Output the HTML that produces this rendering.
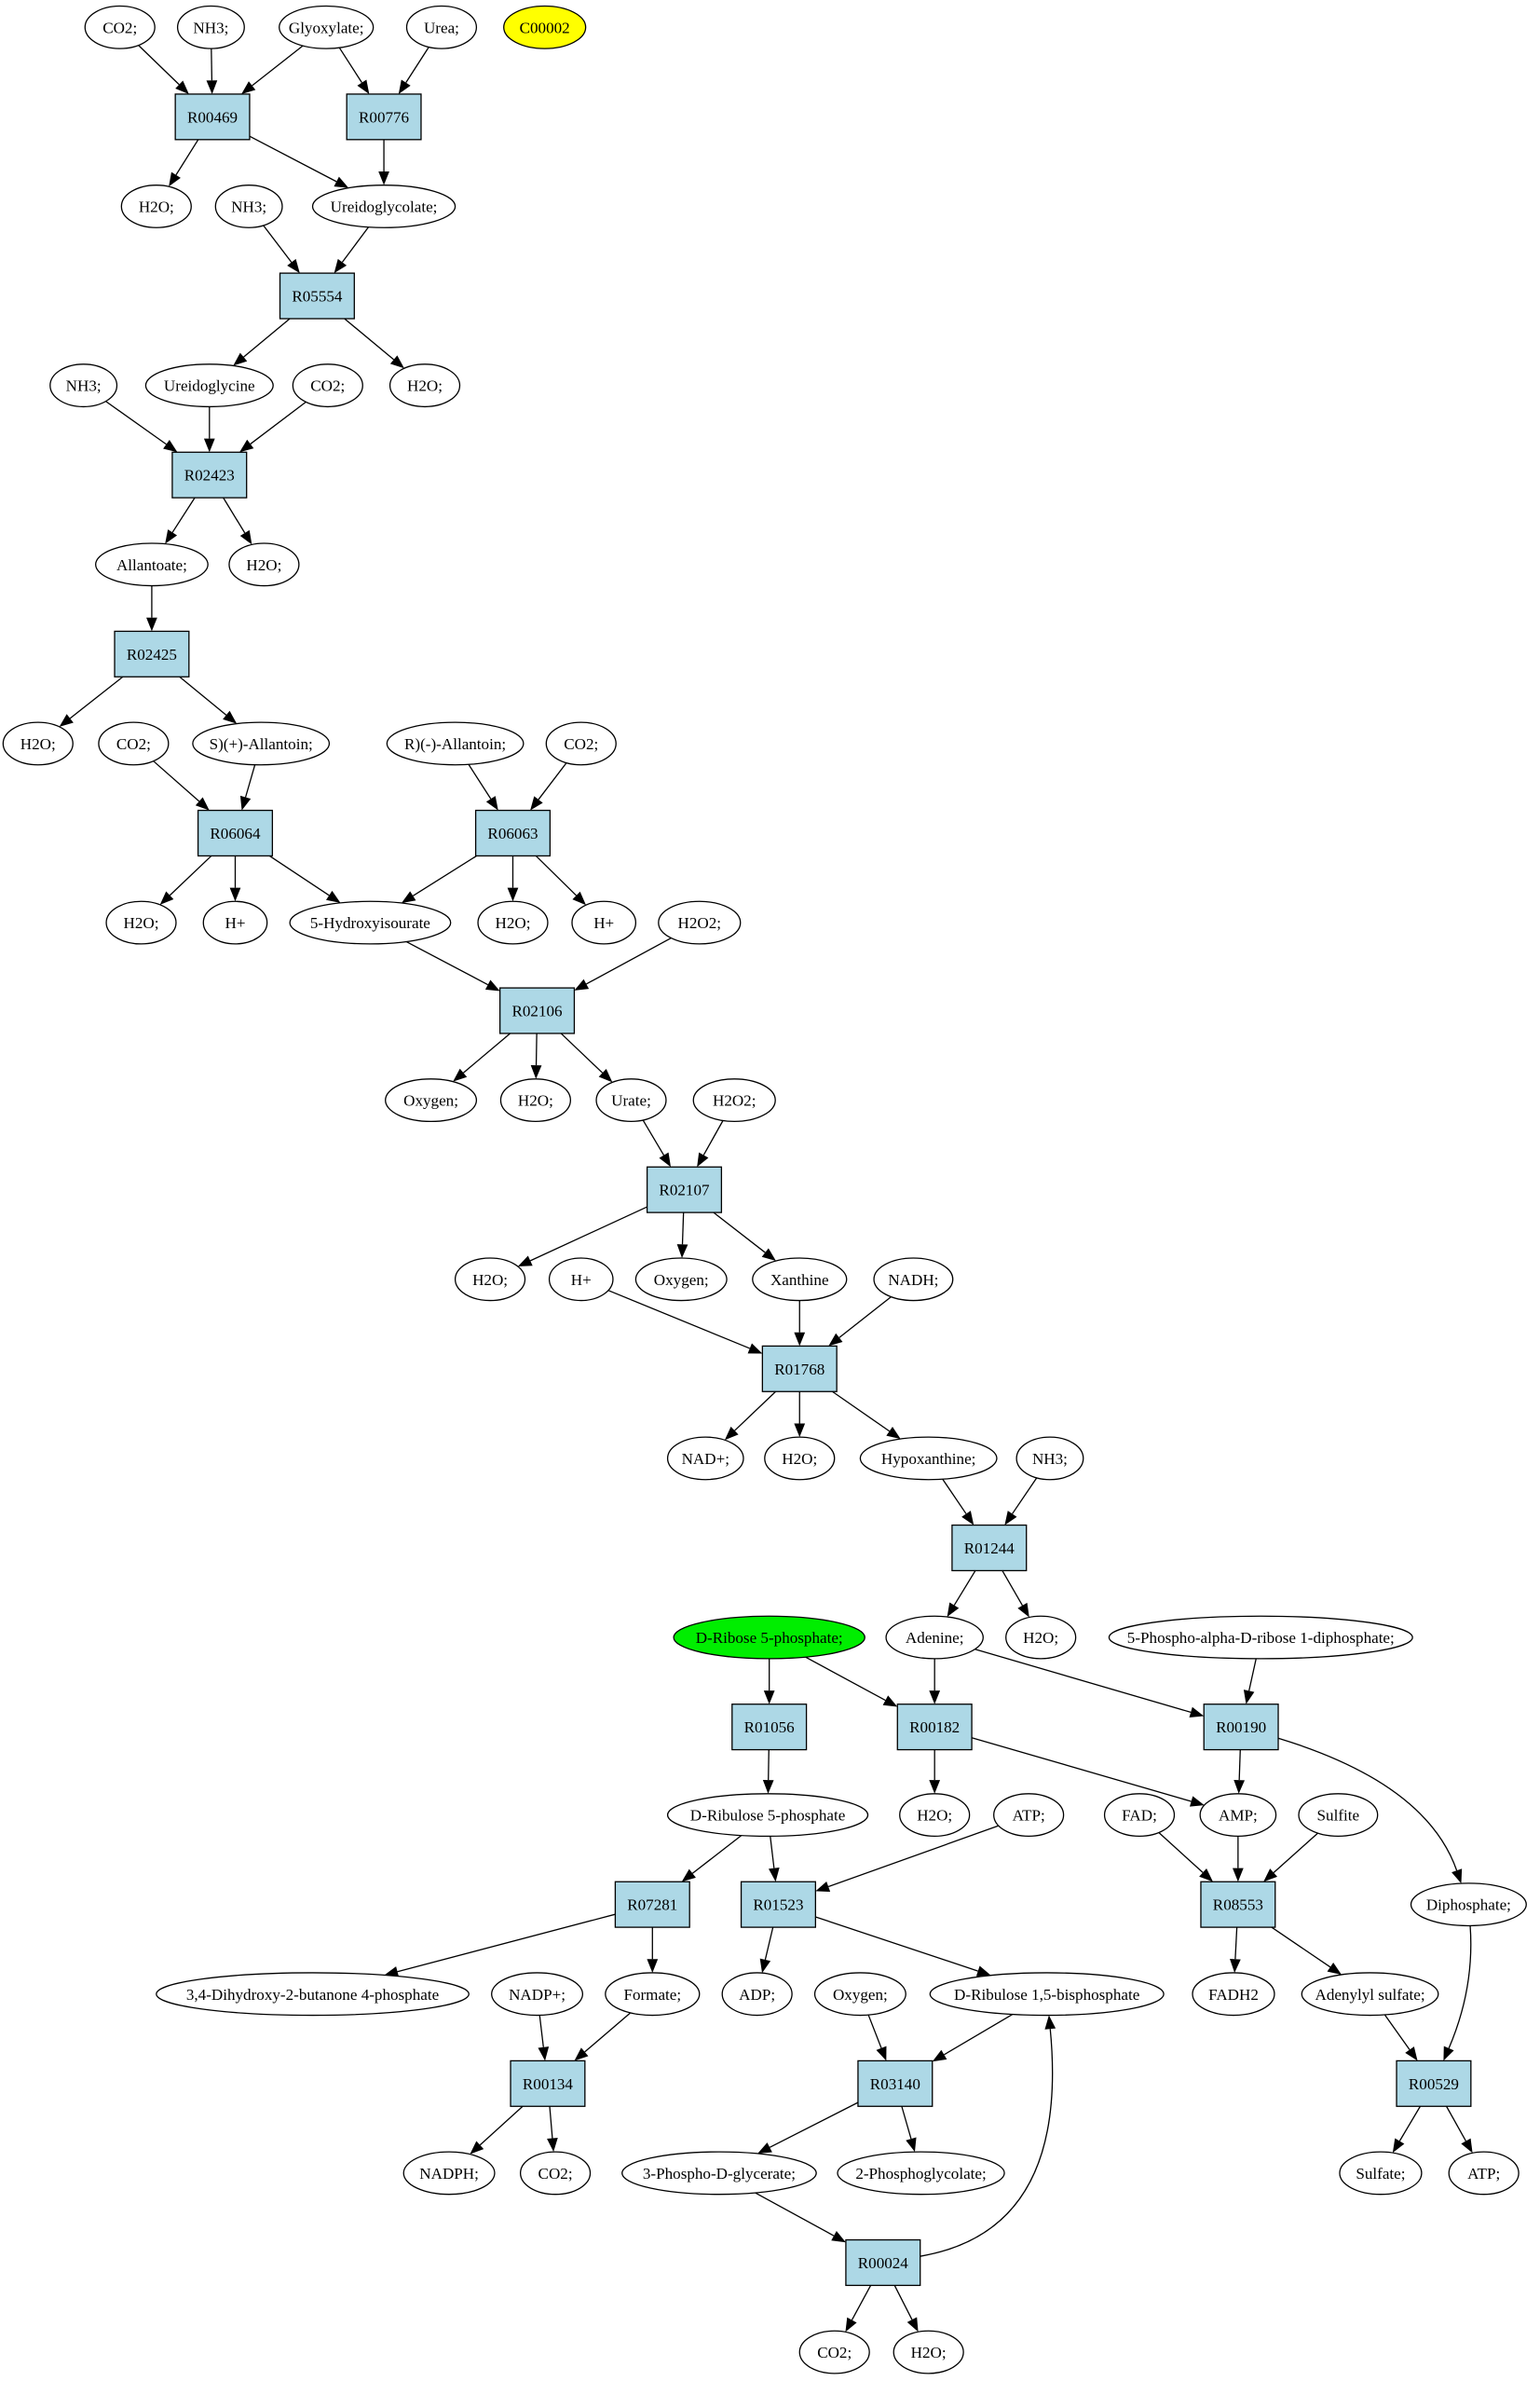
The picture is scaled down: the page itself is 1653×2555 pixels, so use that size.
<!DOCTYPE html>
<html><head><meta charset="utf-8"><style>html,body{margin:0;padding:0;background:#fff}svg{display:block}</style></head>
<body>
<svg id="s" xmlns="http://www.w3.org/2000/svg" width="1653" height="2555" viewBox="0 0 1015 1569" font-family="Liberation Serif, serif" font-size="10.5">
<rect width="1015" height="1569" fill="#fff"/>
<g id="e"></g><g id="n"></g>
</svg>
<script>
const N={};
function E(k,x,y,rx,t,fill){N[k]={x,y,rx,ry:14,t,fill:fill||'#fff',type:'e'};}
function B(k,x,y){N[k]={x,y,hw:24.5,hh:15,t:k,type:'b'};}
E('co2a',79,18,23,'CO2;');E('nh3a',139,18,22,'NH3;');E('gly',215,18,31,'Glyoxylate;');E('urea',291,18,23,'Urea;');E('c2',359,18,27,'C00002','#ffff00');
B('R00469',140,77);B('R00776',253,77);
E('h2oa',103,136,23,'H2O;');E('nh3b',164,136,22,'NH3;');E('ugc',253,136,47,'Ureidoglycolate;');
B('R05554',209,195);
E('nh3c',55,254,22,'NH3;');E('ugy',138,254,42,'Ureidoglycine');E('co2c',216,254,23,'CO2;');E('h2oc',280,254,23,'H2O;');
B('R02423',138,313);
E('alla',100,372,37,'Allantoate;');E('h2od',174,372,23,'H2O;');
B('R02425',100,431);
E('h2oe',25,490,23,'H2O;');E('co2e',88,490,23,'CO2;');E('sall',172,490,45,'S)(+)-Allantoin;');E('rall',300,490,45,'R)(-)-Allantoin;');E('co2f',383,490,23,'CO2;');
B('R06064',155,549);B('R06063',338,549);
E('h2of',93,608,23,'H2O;');E('hpa',155,608,21,'H+');E('hiu',244,608,53,'5-Hydroxyisourate');E('h2og',338,608,23,'H2O;');E('hpb',398,608,21,'H+');E('h2o2a',461,608,27,'H2O2;');
B('R02106',354,666);
E('oxa',284,725,30,'Oxygen;');E('h2oh',353,725,23,'H2O;');E('urate',416,725,23,'Urate;');E('h2o2b',484,725,27,'H2O2;');
B('R02107',451,784);
E('h2oi',323,843,23,'H2O;');E('hpc',383,843,21,'H+');E('oxb',449,843,30,'Oxygen;');E('xan',527,843,31,'Xanthine');E('nadh',602,843,26,'NADH;');
B('R01768',527,902);
E('nad',465,961,25,'NAD+;');E('h2oj',527,961,23,'H2O;');E('hyp',612,961,45,'Hypoxanthine;');E('nh3d',692,961,22,'NH3;');
B('R01244',652,1020);
E('r5p',507,1079,63,'D-Ribose 5-phosphate;','#00ee00');E('ade',616,1079,32,'Adenine;');E('h2ok',686,1079,23,'H2O;');E('prpp',831,1079,100,'5-Phospho-alpha-D-ribose 1-diphosphate;');
B('R01056',507,1138);B('R00182',616,1138);B('R00190',818,1138);
E('ru5p',506,1196,66,'D-Ribulose 5-phosphate');E('h2ol',616,1196,23,'H2O;');E('atpa',678,1196,23,'ATP;');E('fad',751,1196,23,'FAD;');E('amp',816,1196,25,'AMP;');E('sulf',882,1196,26,'Sulfite');
B('R07281',430,1255);B('R01523',513,1255);B('R08553',816,1255);E('dip',968,1255,38,'Diphosphate;');
E('dhbp',206,1314,103,'3,4-Dihydroxy-2-butanone 4-phosphate');E('nadp',354,1314,30,'NADP+;');E('form',430,1314,31,'Formate;');E('adp',499,1314,23,'ADP;');E('oxc',567,1314,30,'Oxygen;');E('rubp',690,1314,77,'D-Ribulose 1,5-bisphosphate');E('fadh',813,1314,27,'FADH2');E('aps',903,1314,45,'Adenylyl sulfate;');
B('R00134',361,1373);B('R03140',590,1373);B('R00529',945,1373);
E('nadph',296,1432,30,'NADPH;');E('co2g',366,1432,23,'CO2;');E('pg3',474,1432,64,'3-Phospho-D-glycerate;');E('pg2',607,1432,55,'2-Phosphoglycolate;');E('sulfate',910,1432,27,'Sulfate;');E('atpb',978,1432,23,'ATP;');
B('R00024',582,1491);
E('co2h',550,1550,23,'CO2;');E('h2om',612,1550,23,'H2O;');
const ED=[['co2a','R00469'],['nh3a','R00469'],['gly','R00469'],['gly','R00776'],['urea','R00776'],
['R00469','h2oa'],['R00469','ugc'],['R00776','ugc'],['nh3b','R05554'],['ugc','R05554'],
['R05554','ugy'],['R05554','h2oc'],['nh3c','R02423'],['ugy','R02423'],['co2c','R02423'],
['R02423','alla'],['R02423','h2od'],['alla','R02425'],['R02425','h2oe'],['R02425','sall'],
['co2e','R06064'],['sall','R06064'],['rall','R06063'],['co2f','R06063'],
['R06064','h2of'],['R06064','hpa'],['R06064','hiu'],['R06063','hiu'],['R06063','h2og'],['R06063','hpb'],
['hiu','R02106'],['h2o2a','R02106'],['R02106','oxa'],['R02106','h2oh'],['R02106','urate'],
['urate','R02107'],['h2o2b','R02107'],['R02107','h2oi'],['R02107','oxb'],['R02107','xan'],
['hpc','R01768'],['xan','R01768'],['nadh','R01768'],['R01768','nad'],['R01768','h2oj'],['R01768','hyp'],
['hyp','R01244'],['nh3d','R01244'],['R01244','ade'],['R01244','h2ok'],
['r5p','R01056'],['r5p','R00182'],['ade','R00182'],['ade','R00190'],['prpp','R00190'],
['R01056','ru5p'],['R00182','h2ol'],['R00182','amp'],['R00190','amp'],['R00190','dip',[940,1175]],
['ru5p','R07281'],['ru5p','R01523'],['atpa','R01523'],['fad','R08553'],['amp','R08553'],['sulf','R08553'],
['R07281','dhbp'],['R07281','form'],['R01523','adp'],['R01523','rubp'],['R08553','fadh'],['R08553','aps'],
['nadp','R00134'],['form','R00134'],['oxc','R03140'],['rubp','R03140'],['aps','R00529'],['dip','R00529',[972,1310]],
['R00134','nadph'],['R00134','co2g'],['R03140','pg3'],['R03140','pg2'],['R00529','sulfate'],['R00529','atpb'],
['pg3','R00024'],['R00024','co2h'],['R00024','h2om'],['R00024','rubp',[705,1470]]];
function clip(n,tx,ty){const dx=tx-n.x,dy=ty-n.y;let s;
 if(n.type==='e')s=1/Math.sqrt((dx/n.rx)**2+(dy/n.ry)**2);
 else s=Math.min(n.hw/Math.abs(dx||1e-9),n.hh/Math.abs(dy||1e-9));
 return [n.x+dx*s,n.y+dy*s];}
let eh='',nh='';
for(const [a,b,c] of ED){const A=N[a],Bn=N[b];
 const p1=c?clip(A,c[0],c[1]):clip(A,Bn.x,Bn.y);
 const p2=c?clip(Bn,c[0],c[1]):clip(Bn,A.x,A.y);
 const fx=c?c[0]:p1[0],fy=c?c[1]:p1[1];
 let dx=p2[0]-fx,dy=p2[1]-fy,L=Math.hypot(dx,dy);dx/=L;dy/=L;
 const al=9,aw=3.6,bx=p2[0]-dx*al,by=p2[1]-dy*al;
 if(c)eh+=`<path d="M${p1[0]},${p1[1]} Q${c[0]},${c[1]} ${bx},${by}" fill="none" stroke="#000" stroke-width="0.8"/>`;
 else eh+=`<line x1="${p1[0]}" y1="${p1[1]}" x2="${bx}" y2="${by}" stroke="#000" stroke-width="0.8"/>`;
 eh+=`<polygon points="${p2[0]},${p2[1]} ${bx-dy*aw},${by+dx*aw} ${bx+dy*aw},${by-dx*aw}" fill="#000"/>`;}
for(const k in N){const n=N[k];
 if(n.type==='e')nh+=`<ellipse cx="${n.x}" cy="${n.y}" rx="${n.rx}" ry="${n.ry}" fill="${n.fill}" stroke="#000" stroke-width="0.8"/>`;
 else nh+=`<rect x="${n.x-n.hw}" y="${n.y-n.hh}" width="${2*n.hw}" height="${2*n.hh}" fill="#add8e6" stroke="#000" stroke-width="0.8"/>`;
 nh+=`<text x="${n.x}" y="${n.y+3.7}" text-anchor="middle">${n.t}</text>`;}
document.getElementById('e').innerHTML=eh;document.getElementById('n').innerHTML=nh;
</script>
</body></html>
